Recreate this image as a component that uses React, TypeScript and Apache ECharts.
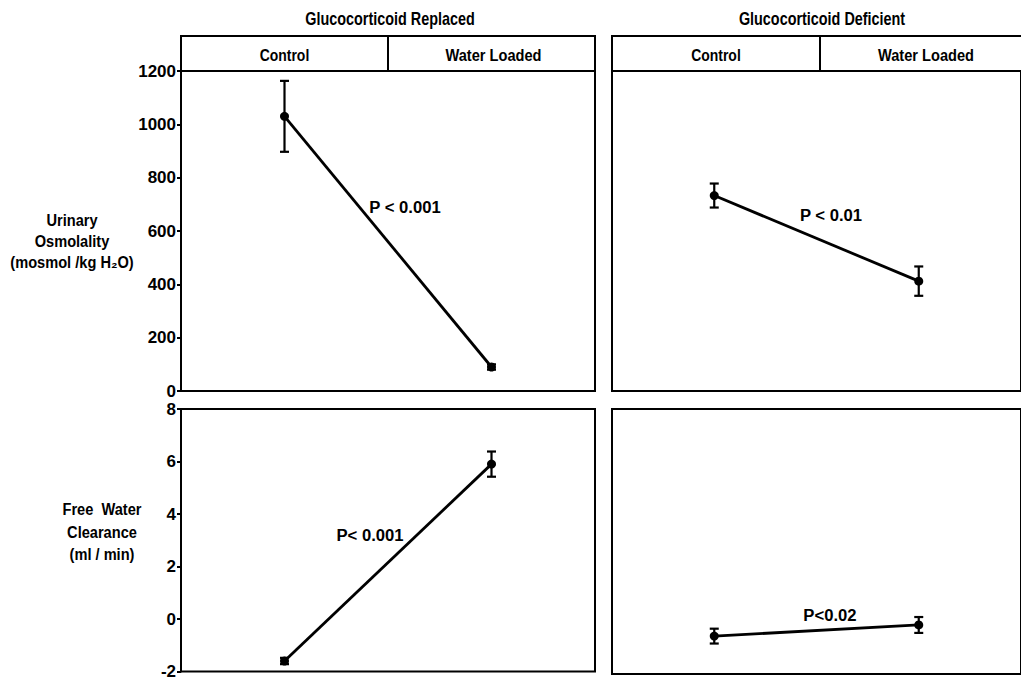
import React, { useEffect, useRef } from "react";
import * as echarts from "echarts";

const groups = ["Control", "Water Loaded"];
const panelTitles = ["Glucocorticoid Replaced", "Glucocorticoid Deficient"];
const rowTitles = [
  "Urinary\nOsmolality\n(mosmol /kg H\u2082O)",
  "Free  Water\nClearance\n(ml / min)",
];
const osmoRange = [0, 1200, 200];
const fwcRange = [-2, 8, 2];

const osmoReplacedMean = [1030, 90];
const osmoReplacedSE = [133, 10];
const osmoDeficientMean = [733, 412];
const osmoDeficientSE = [45, 55];
const fwcReplacedMean = [-1.6, 5.9];
const fwcReplacedSE = [0.12, 0.48];
const fwcDeficientMean = [-0.57, -0.15];
const fwcDeficientSE = [0.28, 0.3];
const pLabels = ["P < 0.001", "P < 0.01", "P< 0.001", "P<0.02"];

const FONT = '"Liberation Sans", Arial, sans-serif';

export default function App() {
  const ref = useRef<HTMLDivElement>(null);
  useEffect(() => {
    document.body.style.margin = "0";
    const chart = echarts.init(ref.current!, null, { renderer: "svg" });

    const panels = [
      { x: 181, w: 414 },
      { x: 612, w: 416 },
    ];
    const grids = [
      { left: panels[0].x, top: 71, width: panels[0].w, height: 320 },
      { left: panels[1].x, top: 71, width: panels[1].w, height: 320 },
      { left: panels[0].x, top: 409, width: panels[0].w, height: 265 },
      { left: panels[1].x, top: 409, width: panels[1].w, height: 265 },
    ].map((g) => ({ ...g, show: true, borderColor: "#000", borderWidth: 2, backgroundColor: "transparent" }));

    const xAxis = [0, 1, 2, 3].map((i) => ({
      type: "value",
      gridIndex: i,
      min: -0.5,
      max: 1.5,
      show: false,
    }));

    const yAxis = [0, 1, 2, 3].map((i) => {
      const rng = i < 2 ? osmoRange : fwcRange;
      const left = i % 2 === 0;
      return {
        type: "value",
        gridIndex: i,
        position: "left",
        min: rng[0],
        max: rng[1],
        interval: rng[2],
        axisLine: { show: left, onZero: false, lineStyle: { color: "#000", width: 2 } },
        axisTick: { show: left, length: 4, lineStyle: { color: "#000", width: 2 } },
        axisLabel: {
          show: left,
          color: "#000",
          fontWeight: "bold",
          fontSize: 17,
          fontFamily: FONT,
          margin: 5,
          formatter: (v: number) => String(v),
        },
        splitLine: { show: false },
      };
    });

    const means = [osmoReplacedMean, osmoDeficientMean, fwcReplacedMean, fwcDeficientMean];
    const ses = [osmoReplacedSE, osmoDeficientSE, fwcReplacedSE, fwcDeficientSE];

    const series: any[] = [];
    means.forEach((m, i) => {
      series.push({
        type: "line",
        xAxisIndex: i,
        yAxisIndex: i,
        data: m.map((v, j) => [j, v]),
        symbol: "circle",
        symbolSize: 9,
        itemStyle: { color: "#000" },
        lineStyle: { color: "#000", width: 2.8 },
        z: 3,
      });
      series.push({
        type: "custom",
        xAxisIndex: i,
        yAxisIndex: i,
        data: m.map((v, j) => [j, v - ses[i][j], v + ses[i][j]]),
        renderItem: (params: any, api: any) => {
          const x = api.value(0);
          const lo = api.coord([x, api.value(1)]);
          const hi = api.coord([x, api.value(2)]);
          const w = 4.5;
          const st = { stroke: "#000", lineWidth: 2.2 };
          return {
            type: "group",
            children: [
              { type: "line", shape: { x1: lo[0], y1: lo[1], x2: hi[0], y2: hi[1] }, style: st },
              { type: "line", shape: { x1: lo[0] - w, y1: lo[1], x2: lo[0] + w, y2: lo[1] }, style: st },
              { type: "line", shape: { x1: hi[0] - w, y1: hi[1], x2: hi[0] + w, y2: hi[1] }, style: st },
            ],
          };
        },
        z: 4,
      });
    });

    const txt = (x: number, y: number, text: string, fontSize: number, sx: number, extra: any = {}) => ({
      type: "text",
      x,
      y,
      scaleX: sx,
      style: {
        text,
        fill: "#000",
        fontFamily: FONT,
        fontWeight: "bold",
        fontSize,
        align: "center",
        verticalAlign: "middle",
        ...extra,
      },
    });

    const graphic: any[] = [];
    panels.forEach((b, i) => {
      graphic.push(txt(b.x + b.w / 2 + 2, 18, panelTitles[i], 18, 0.8));
      graphic.push({
        type: "rect",
        shape: { x: b.x, y: 36, width: b.w, height: 35 },
        style: { fill: "none", stroke: "#000", lineWidth: 2 },
      });
      const mid = b.x + b.w / 2;
      graphic.push({
        type: "line",
        shape: { x1: mid, y1: 36, x2: mid, y2: 71 },
        style: { stroke: "#000", lineWidth: 2 },
      });
      graphic.push(txt(b.x + b.w / 4, 55, groups[0], 17, 0.82));
      graphic.push(txt(b.x + (3 * b.w) / 4 + 2, 55, groups[1], 17, 0.86));
    });
    graphic.push(txt(72, 241, rowTitles[0], 17, 0.86, { lineHeight: 21 }));
    graphic.push(txt(102, 532, rowTitles[1], 17, 0.86, { lineHeight: 22.5 }));
    const pPos = [
      [405, 207],
      [831, 215],
      [370, 535],
      [830, 615],
    ];
    pPos.forEach((p, i) => graphic.push(txt(p[0], p[1], pLabels[i], 17, 0.98)));

    chart.setOption({
      animation: false,
      backgroundColor: "#fff",
      grid: grids,
      xAxis,
      yAxis,
      series,
      graphic,
    });
    return () => chart.dispose();
  }, []);
  return <div ref={ref} style={{ width: 1021, height: 680 }} />;
}
